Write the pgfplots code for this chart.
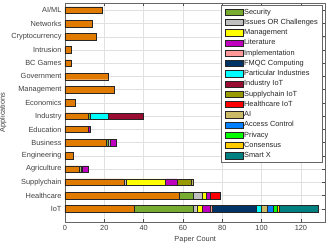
\documentclass[border=0pt]{standalone}
\usepackage{pgfplots}
\pgfplotsset{compat=1.18}
\usepackage{pgfplotstable}
\usepackage{fontspec}
\setmainfont{Liberation Sans}

\definecolor{c0}{RGB}{224,123,0}
\definecolor{c1}{RGB}{119,172,48}
\definecolor{c2}{RGB}{192,192,192}
\definecolor{c3}{RGB}{255,255,0}
\definecolor{c4}{RGB}{191,0,191}
\definecolor{c5}{RGB}{255,153,153}
\definecolor{c6}{RGB}{0,51,102}
\definecolor{c7}{RGB}{0,255,255}
\definecolor{c8}{RGB}{153,13,51}
\definecolor{c9}{RGB}{153,153,0}
\definecolor{c10}{RGB}{255,0,0}
\definecolor{c11}{RGB}{204,187,102}
\definecolor{c12}{RGB}{0,128,255}
\definecolor{c13}{RGB}{0,255,0}
\definecolor{c14}{RGB}{255,204,0}
\definecolor{c15}{RGB}{0,128,128}

\pgfplotstableread{
y o sec iss man lit imp fmqc part iiot siot hiot ai acc priv cons sx
1 35 30 2 3 4 1 22 3 0 0 0 3 3 2 1 20
2 58 7 5 2 2 0 0 0 0 0 5 0 0 0 0 0
3 30 0 1 20 6 0 0 0 0 7 0 1 0 0 0 0
4 7 1 1 0 3 0 0 0 0 0 0 0 0 0 0 0
5 4 0 0 0 0 0 0 0 0 0 0 0 0 0 0 0
6 21 1 1 0 3 0 0 0 0 0 0 0 0 0 0 0
7 12 0 0 0 1 0 0 0 0 0 0 0 0 0 0 0
8 12 1 0 0 0 0 0 9 18 0 0 0 0 0 0 0
9 5 0 0 0 0 0 0 0 0 0 0 0 0 0 0 0
10 25 0 0 0 0 0 0 0 0 0 0 0 0 0 0 0
11 22 0 0 0 0 0 0 0 0 0 0 0 0 0 0 0
12 3 0 0 0 0 0 0 0 0 0 0 0 0 0 0 0
13 3 0 0 0 0 0 0 0 0 0 0 0 0 0 0 0
14 16 0 0 0 0 0 0 0 0 0 0 0 0 0 0 0
15 14 0 0 0 0 0 0 0 0 0 0 0 0 0 0 0
16 19 0 0 0 0 0 0 0 0 0 0 0 0 0 0 0
}\data

\begin{document}
\begin{tikzpicture}
\path[use as bounding box] (-65pt,-23pt) rectangle (262pt,222pt);
\begin{axis}[
  at={(0,0)}, anchor=south west, scale only axis,
  width=260.5pt, height=219pt,
  xbar stacked, bar width=0.5,
  xmin=0, xmax=132.5, ymin=0, ymax=16.55,
  xtick={0,20,...,120}, ytick={1,...,16},
  yticklabels={IoT,Healthcare,Supplychain,Agriculture,Engineering,Business,Education,Industry,Economics,Management,Government,BC Games,Intrusion,Cryptocurrency,Networks,AI/ML},
  grid=major, major grid style={black!12, line width=0.4pt},
  axis line style={black!60, line width=0.5pt},
  tick style={black!70, line width=0.5pt}, major tick length=3pt,
  /pgf/number format/assume math mode=true,
  tick label style={font=\fontsize{7.4}{8.5}\selectfont, text=black!75},
  label style={font=\fontsize{7.4}{8.5}\selectfont, text=black!75},
  xlabel={Paper Count}, ylabel={Applications},
  xlabel style={yshift=1pt},
  ylabel style={yshift=-2pt},
  every axis plot/.append style={draw=black!85, line width=0.4pt},
  legend style={at={(1,1)}, anchor=north east, xshift=-3pt, yshift=-2.5pt,
    font=\fontsize{7.4}{8.5}\selectfont, draw=black!60, line width=0.5pt,
    inner xsep=3.5pt, inner ysep=2pt, row sep=1.25pt,
    nodes={inner sep=1pt, text height=5.5pt, text depth=1.5pt, text=black!85}},
  legend cell align=left,
  legend image code/.code={\draw[#1, line width=0.5pt] (0pt,-3.2pt) rectangle (18pt,3.2pt);},
]
\addplot[fill=c0] table[x=o,y=y]{\data};
\addplot[fill=c1] table[x=sec,y=y]{\data};
\addplot[fill=c2] table[x=iss,y=y]{\data};
\addplot[fill=c3] table[x=man,y=y]{\data};
\addplot[fill=c4] table[x=lit,y=y]{\data};
\addplot[fill=c5] table[x=imp,y=y]{\data};
\addplot[fill=c6] table[x=fmqc,y=y]{\data};
\addplot[fill=c7] table[x=part,y=y]{\data};
\addplot[fill=c8] table[x=iiot,y=y]{\data};
\addplot[fill=c9] table[x=siot,y=y]{\data};
\addplot[fill=c10] table[x=hiot,y=y]{\data};
\addplot[fill=c11] table[x=ai,y=y]{\data};
\addplot[fill=c12] table[x=acc,y=y]{\data};
\addplot[fill=c13] table[x=priv,y=y]{\data};
\addplot[fill=c14] table[x=cons,y=y]{\data};
\addplot[fill=c15] table[x=sx,y=y]{\data};
\legend{,Security,Issues OR Challenges,Management,Literature,Implementation,FMQC Computing,Particular Industries,Industry IoT,Supplychain IoT,Healthcare IoT,AI,Access Control,Privacy,Consensus,Smart X}
\end{axis}
\end{tikzpicture}
\end{document}
